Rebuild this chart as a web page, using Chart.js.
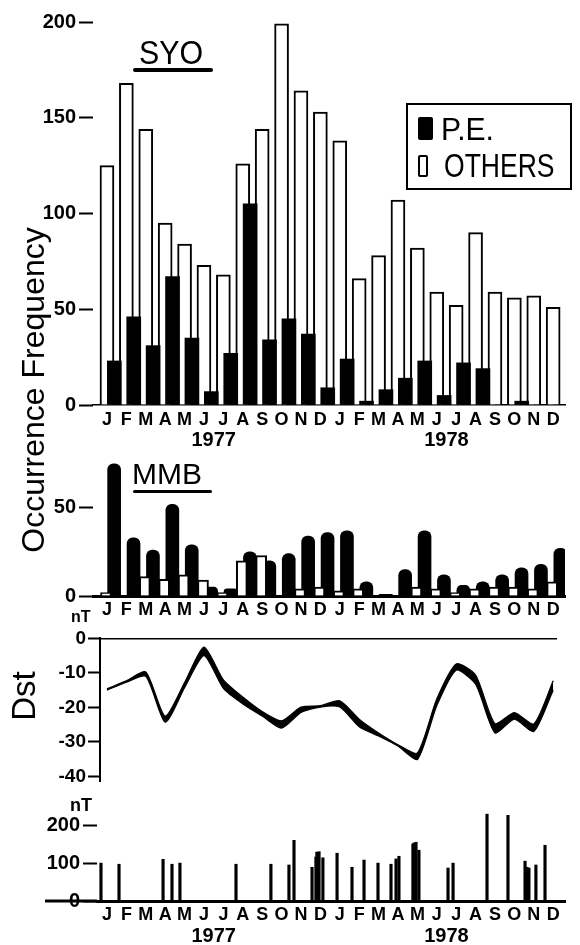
<!DOCTYPE html>
<html>
<head>
<meta charset="utf-8">
<script src="https://cdn.jsdelivr.net/npm/chart.js@4.4.1/dist/chart.umd.min.js"></script>
<style>
  html, body { margin: 0; padding: 0; background: #fff; }
  #page { position: relative; width: 580px; height: 945px; overflow: hidden;
          font-family: "Liberation Sans", Arial, sans-serif; color: #000; }
  canvas { position: absolute; left: 0; }
  .lbl { position: absolute; white-space: nowrap; line-height: 1; transform-origin: left top; }
  .rule { position: absolute; background: #000; border-radius: 2px; }
  .rot { position: absolute; text-align: center; transform: rotate(-90deg); white-space: nowrap; }
</style>
</head>
<body>
<div id="page">
  <canvas id="syo" width="580" height="452" style="top:0"></canvas>
  <canvas id="mmb" width="580" height="185" style="top:440px"></canvas>
  <canvas id="dst" width="580" height="170" style="top:625px"></canvas>
  <canvas id="ssc" width="580" height="150" style="top:795px"></canvas>

  <div class="lbl" style="left:139px;top:36px;font-size:33px;transform:scaleX(0.92)">SYO</div>
  <div class="rule" style="left:133px;top:68px;width:80px;height:4px"></div>
  <div class="lbl" style="left:132px;top:459px;font-size:30px">MMB</div>
  <div class="rule" style="left:133px;top:490px;width:79px;height:2.5px"></div>

  <div style="position:absolute;left:406px;top:103px;width:162px;height:83px;border:2px solid #000"></div>
  <div style="position:absolute;left:418px;top:117px;width:15px;height:23px;background:#000;border-radius:2px"></div>
  <div class="lbl" style="left:441px;top:113px;font-size:32px;transform:scaleX(0.94)">P.E.</div>
  <div style="position:absolute;left:418px;top:155px;width:10px;height:22px;border:2px solid #000;box-sizing:border-box;border-radius:2px"></div>
  <div class="lbl" style="left:444px;top:148px;font-size:34px;transform:scaleX(0.78)">OTHERS</div>

  <div class="rot" style="left:-147px;top:370px;width:360px;height:40px;line-height:40px;font-size:32px">Occurrence Frequency</div>
  <div class="rot" style="left:-16px;top:676px;width:80px;height:40px;line-height:40px;font-size:33px">Dst</div>
  <div class="lbl" style="left:71px;top:609px;font-size:16px;font-weight:bold">nT</div>
  <div class="lbl" style="left:70px;top:796px;font-size:18px;font-weight:bold">nT</div>
</div>

<script>
const months = ['J','F','M','A','M','J','J','A','S','O','N','D','J','F','M','A','M','J','J','A','S','O','N','D'];
const years = ['1977', '1978'];

// SYO: monthly counts, Jan 1977 .. Dec 1978
const syoPE = [23, 46, 31, 67, 35, 7, 27, 105, 34, 45, 37, 9, 24, 2, 8, 14, 23, 5, 22, 19, 0, 2, 0, 0];
const syoOthers = [125, 168, 144, 95, 84, 73, 68, 126, 144, 199, 164, 153, 138, 66, 78, 107, 82, 59, 52, 90, 59, 56, 57, 51];
const syoTicks = [0, 50, 100, 150, 200];

// MMB: monthly counts
const mmbPE = [75, 33, 26, 52, 29, 5, 4, 25, 20, 24, 34, 36, 37, 8, 1, 15, 37, 12, 6, 8, 12, 16, 18, 27];
const mmbOthers = [2, 0, 11, 9.5, 12, 9, 2, 20, 23, 0, 4, 5, 3, 4, 0, 0, 5, 4, 2, 4, 5, 5, 4, 8];
const mmbTicks = [0, 50];

// monthly Dst (nT), upper and lower edge of the trace
const dstUpper = [-14.6, -12.3, -9.7, -22.5, -12.8, -2.5, -12.0, -17.0, -21.2, -23.9, -19.9, -19.5,
                  -18.1, -23.4, -27.4, -30.8, -33.2, -17.5, -7.4, -10.6, -24.7, -21.5, -24.8, -12.3];
const dstLower = [-15.0, -12.7, -11.0, -24.3, -14.3, -5.0, -14.5, -19.0, -22.5, -26.0, -21.5, -19.9,
                  -19.9, -25.6, -28.3, -31.2, -35.1, -19.5, -9.2, -13.3, -27.4, -23.4, -27.0, -15.0];
const dstTicks = [0, -10, -20, -30, -40];

// storm sudden commencements: time in months (0 = Jan 1977) and amplitude (nT)
const sscTime = [-0.31, 0.62, 2.89, 3.35, 3.76, 6.65, 8.45, 9.38, 9.64, 10.57, 10.77, 10.82, 10.93, 11.13,
                 11.86, 12.63, 13.25, 13.97, 14.64, 14.90, 15.05, 15.77, 15.82, 15.93, 16.08, 17.58,
                 17.84, 19.59, 20.67, 21.55, 21.65, 21.75, 22.11, 22.58];
const sscAmp = [100, 97, 110, 97, 100, 97, 97, 95, 160, 89, 116, 129, 130, 114,
                126, 89, 108, 100, 97, 111, 118, 150, 153, 155, 134, 87,
                100, 229, 226, 105, 89, 87, 95, 147];
const sscTicks = [0, 100, 200];

const FONT = '"Liberation Sans", Arial, sans-serif';
Chart.defaults.font.family = FONT;
Chart.defaults.color = '#000';
Chart.defaults.animation = false;
Chart.defaults.plugins.legend.display = false;
Chart.defaults.plugins.tooltip.enabled = false;

const setTicks = list => s => { s.ticks = list.map(v => ({ value: v })); };

function monthAxis(min, max, pad, height, border) {
  return {
    type: 'linear', min, max, offset: false,
    grid: { display: false, drawTicks: false },
    border: { display: true, color: '#000', width: border },
    ticks: { padding: pad, autoSkip: false, maxRotation: 0,
             font: { size: 18, weight: 'bold' }, callback: (v, i) => months[i] },
    afterBuildTicks: setTicks(months.map((m, i) => i)),
    afterFit: s => { s.height = height; }
  };
}

function valueAxis(min, max, list, width, tickLen, pad) {
  return {
    min, max,
    grid: { drawOnChartArea: false, drawTicks: true, tickLength: tickLen, tickWidth: 2, tickColor: '#000' },
    border: { display: false },
    ticks: { padding: pad, autoSkip: false, font: { size: 20, weight: 'bold' } },
    afterBuildTicks: setTicks(list),
    afterFit: s => { s.width = width; }
  };
}

// year captions under the month letters
const yearLabels = {
  id: 'yearLabels',
  afterDraw(chart, args, opts) {
    const { ctx, chartArea } = chart;
    const x = chart.scales.x;
    ctx.save();
    ctx.font = 'bold 20px ' + FONT;
    ctx.fillStyle = '#000';
    ctx.textAlign = 'center';
    ctx.textBaseline = 'middle';
    years.forEach((yr, k) => ctx.fillText(yr, x.getPixelForValue(k * 12 + 5.5), chartArea.bottom + opts.offset));
    ctx.restore();
  }
};

// zero line carried out to the left under the tick labels
const baselineStub = {
  id: 'baselineStub',
  afterDraw(chart, args, opts) {
    const { ctx, chartArea } = chart;
    const y = chart.scales.y.getPixelForValue(0);
    ctx.save();
    ctx.strokeStyle = '#000';
    ctx.lineWidth = 3;
    ctx.beginPath();
    ctx.moveTo(opts.from, y);
    ctx.lineTo(chartArea.left, y);
    ctx.stroke();
    ctx.restore();
  }
};

new Chart(document.getElementById('syo'), {
  type: 'bar',
  data: {
    datasets: [
      { label: 'P.E.', data: syoPE.map((v, i) => ({ x: i + 0.38, y: v })),
        backgroundColor: '#000', borderWidth: 0, barThickness: 14, grouped: false, order: 0 },
      { label: 'OTHERS', data: syoOthers.map((v, i) => ({ x: i, y: v })),
        backgroundColor: '#fff', borderColor: '#000', borderWidth: 2, borderSkipped: 'start',
        barThickness: 14, grouped: false, order: 1 }
    ]
  },
  options: {
    responsive: false,
    layout: { padding: { left: 0, right: 15, top: 22, bottom: 0 } },
    plugins: { yearLabels: { offset: 35.5 } },
    scales: {
      x: monthAxis(-0.72, 23.61, 4, 47, 1.5),
      y: valueAxis(0, 200, syoTicks, 93, 14, 3)
    }
  },
  plugins: [yearLabels]
});

new Chart(document.getElementById('mmb'), {
  type: 'bar',
  data: {
    datasets: [
      { label: 'OTHERS', data: mmbOthers.map((v, i) => ({ x: i - 0.05, y: v })),
        backgroundColor: '#fff', borderColor: '#000', borderWidth: 2, borderSkipped: 'start',
        barThickness: 11, grouped: false, order: 0 },
      { label: 'P.E.', data: mmbPE.map((v, i) => ({ x: i + 0.37, y: v })),
        backgroundColor: '#000', borderWidth: 0, barThickness: 13, grouped: false, order: 1,
        borderRadius: { topLeft: 6, topRight: 6, bottomLeft: 0, bottomRight: 0 } }
    ]
  },
  options: {
    responsive: false,
    layout: { padding: { left: 0, right: 15, top: 4, bottom: 0 } },
    scales: {
      x: monthAxis(-0.72, 23.61, 3, 29, 3),
      y: valueAxis(0, 80, mmbTicks, 93, 14, 3)
    }
  }
});

new Chart(document.getElementById('dst'), {
  type: 'line',
  data: {
    datasets: [
      { data: dstUpper.map((v, i) => ({ x: i, y: v })), borderColor: '#000', borderWidth: 1.2,
        pointRadius: 0, fill: false, tension: 0.22 },
      { data: dstLower.map((v, i) => ({ x: i, y: v })), borderColor: '#000', borderWidth: 1.2,
        pointRadius: 0, fill: '-1', backgroundColor: '#000', tension: 0.22 }
    ]
  },
  options: {
    responsive: false,
    layout: { padding: { left: 0, right: 24, top: 10.5, bottom: 5 } },
    scales: {
      x: { type: 'linear', position: 'top', min: -0.36, max: 23.144, offset: false,
           grid: { display: false, drawTicks: false }, ticks: { display: false },
           border: { display: true, color: '#000', width: 1.5 },
           afterFit: s => { s.height = 0; } },
      y: { min: -41.5, max: 0,
           grid: { drawOnChartArea: false, drawTicks: true, tickLength: 12, tickWidth: 2, tickColor: '#000' },
           border: { display: true, color: '#000', width: 2 },
           ticks: { padding: 2, autoSkip: false, font: { size: 19, weight: 'bold' } },
           afterBuildTicks: setTicks(dstTicks),
           afterFit: s => { s.width = 100; } }
    }
  }
});

new Chart(document.getElementById('ssc'), {
  type: 'bar',
  data: {
    datasets: [
      { data: sscTime.map((t, i) => ({ x: t, y: sscAmp[i] })), backgroundColor: '#000',
        borderWidth: 0, barThickness: 2.5, grouped: false }
    ]
  },
  options: {
    responsive: false,
    layout: { padding: { left: 0, right: 15, top: 15, bottom: 0 } },
    plugins: { yearLabels: { offset: 35.5 }, baselineStub: { from: 45 } },
    scales: {
      x: monthAxis(-0.515, 23.61, 3, 44, 3),
      y: valueAxis(0, 240, sscTicks, 97, 14, 3)
    }
  },
  plugins: [yearLabels, baselineStub]
});
</script>
</body>
</html>
